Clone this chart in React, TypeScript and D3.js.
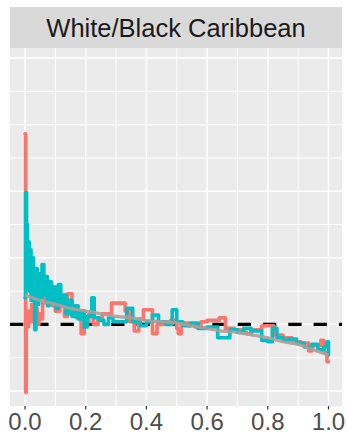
import React, { useEffect, useRef } from "react";
import * as d3 from "d3";

// facet title
const stripTitle = "White/Black Caribbean";

// x axis ticks
const xMajor = [0, 0.2, 0.4, 0.6, 0.8, 1.0];
const xMinor = [0.1, 0.3, 0.5, 0.7, 0.9];
const yMajor = [0.5, 1.0, 1.5, 2.0, 2.5, 3.0];
const yMinor = [0.75, 1.25, 1.75, 2.25, 2.75];
const refLine = 1.0;

// red group (step)
const redX = [
  0.0, 0.002, 0.004, 0.008, 0.012, 0.016, 0.022, 0.028, 0.034, 0.04, 0.046,
  0.052, 0.058, 0.064, 0.075, 0.09, 0.1, 0.115, 0.13, 0.14, 0.155, 0.17, 0.185,
  0.195, 0.21, 0.225, 0.24, 0.255, 0.285, 0.33, 0.345, 0.36, 0.375, 0.39, 0.42,
  0.435, 0.46, 0.48, 0.5, 0.505, 0.515, 0.54, 0.56, 0.58, 0.6, 0.64, 0.66, 0.69,
  0.71, 0.73, 0.745, 0.78, 0.82, 0.85, 0.88, 0.91, 0.935, 0.945, 0.975, 0.985,
  0.995, 1.0,
];
const redY = [
  2.43, 0.49, 1.05, 0.98, 1.1, 1.02, 1.15, 1.05, 1.12, 1.0, 1.08, 1.04, 1.16,
  1.22, 1.29, 1.14, 1.1, 1.18, 1.06, 1.23, 1.1, 1.05, 0.93, 1.02, 1.08, 1.0,
  1.04, 1.08, 1.16, 1.1, 1.02, 0.95, 1.04, 1.11, 0.93, 1.0, 1.02, 1.03, 0.97,
  0.93, 1.01, 0.99, 0.98, 1.02, 1.03, 1.05, 0.97, 0.96, 0.94, 0.93, 0.96, 0.99,
  0.92, 0.9, 0.87, 0.86, 0.8, 0.84, 0.88, 0.79, 0.72, 0.72,
];

// cyan group (step)
const cyanX = [
  0.0, 0.002, 0.005, 0.008, 0.011, 0.014, 0.017, 0.02, 0.024, 0.028, 0.032,
  0.036, 0.04, 0.045, 0.05, 0.056, 0.062, 0.068, 0.074, 0.08, 0.087, 0.094,
  0.102, 0.11, 0.118, 0.126, 0.135, 0.145, 0.155, 0.165, 0.175, 0.185, 0.195,
  0.205, 0.22, 0.228, 0.245, 0.26, 0.275, 0.29, 0.335, 0.355, 0.38, 0.4, 0.42,
  0.44, 0.465, 0.485, 0.5, 0.52, 0.545, 0.57, 0.6, 0.635, 0.675, 0.7, 0.72,
  0.745, 0.78, 0.8, 0.815, 0.83, 0.85, 0.87, 0.895, 0.92, 0.945, 0.965, 0.985,
  0.995, 1.0,
];
const cyanY = [
  1.2, 1.99, 1.75, 1.3, 1.62, 1.25, 1.56, 1.18, 1.5, 1.22, 0.96, 1.42, 1.15,
  1.38, 1.2, 1.45, 1.22, 1.36, 1.14, 1.32, 1.17, 1.28, 1.12, 1.3, 1.15, 1.22,
  1.08, 1.18, 1.06, 1.14, 1.04, 1.1, 0.98, 1.06, 1.2, 1.05, 1.03, 1.0, 1.05,
  1.02, 1.12, 1.02, 0.99, 1.02, 1.07, 1.02, 1.0, 1.11, 1.02, 0.99, 1.01, 0.97,
  0.98, 0.9, 0.96, 0.94, 0.97, 0.95, 0.88, 0.87, 0.97, 0.9, 0.88, 0.89, 0.86,
  0.83, 0.85, 0.81, 0.83, 0.87, 0.77,
];

// smooth trend
const smoothX = [
  0.0, 0.05, 0.1, 0.15, 0.2, 0.25, 0.3, 0.35, 0.4, 0.45, 0.5, 0.55, 0.6, 0.65,
  0.7, 0.75, 0.8, 0.85, 0.9, 0.95, 1.0,
];
const smoothY = [
  1.22, 1.18, 1.15, 1.12, 1.1, 1.08, 1.06, 1.05, 1.03, 1.02, 1.01, 0.99, 0.97,
  0.95, 0.94, 0.92, 0.9, 0.87, 0.85, 0.81, 0.77,
];

const App = () => {
  const ref = useRef<SVGSVGElement>(null);

  useEffect(() => {
    const svg = d3.select(ref.current);
    svg.selectAll("*").remove();

    const width = 347;
    const height = 434;
    const panel = { left: 10, right: 342, top: 48, bottom: 406 };
    const strip = { top: 7, bottom: 48 };

    const x = d3.scaleLinear().domain([0, 1]).range([25, 328.5]);
    const y = d3.scaleLinear().domain([0.5, 3.0]).range([391, 58]);

    svg.attr("width", width).attr("height", height);

    // strip
    svg.append("rect")
      .attr("x", panel.left).attr("y", strip.top)
      .attr("width", panel.right - panel.left)
      .attr("height", strip.bottom - strip.top)
      .attr("fill", "#D9D9D9");
    svg.append("text")
      .attr("x", (panel.left + panel.right) / 2)
      .attr("y", 36.5)
      .attr("text-anchor", "middle")
      .attr("font-family", "'Liberation Sans', Arial, sans-serif")
      .attr("font-size", 25.5)
      .attr("fill", "#1A1A1A")
      .text(stripTitle);

    // panel
    svg.append("rect")
      .attr("x", panel.left).attr("y", panel.top)
      .attr("width", panel.right - panel.left)
      .attr("height", panel.bottom - panel.top)
      .attr("fill", "#EBEBEB");

    const grid = svg.append("g").attr("stroke", "#FFFFFF");
    grid.selectAll(".vmin").data(xMinor).enter().append("line")
      .attr("x1", (d) => x(d)).attr("x2", (d) => x(d))
      .attr("y1", panel.top).attr("y2", panel.bottom)
      .attr("stroke-width", 1);
    grid.selectAll(".hmin").data(yMinor).enter().append("line")
      .attr("y1", (d) => y(d)).attr("y2", (d) => y(d))
      .attr("x1", panel.left).attr("x2", panel.right)
      .attr("stroke-width", 1);
    grid.selectAll(".vmaj").data(xMajor).enter().append("line")
      .attr("x1", (d) => x(d)).attr("x2", (d) => x(d))
      .attr("y1", panel.top).attr("y2", panel.bottom)
      .attr("stroke-width", 1.4);
    grid.selectAll(".hmaj").data(yMajor).enter().append("line")
      .attr("y1", (d) => y(d)).attr("y2", (d) => y(d))
      .attr("x1", panel.left).attr("x2", panel.right)
      .attr("stroke-width", 1.4);

    // reference line
    svg.append("line")
      .attr("x1", panel.left).attr("x2", panel.right)
      .attr("y1", y(refLine)).attr("y2", y(refLine))
      .attr("stroke", "#000000")
      .attr("stroke-width", 3.2)
      .attr("stroke-dasharray", "13.3,12");

    const step = d3.line<[number, number]>()
      .x((d) => x(d[0]))
      .y((d) => y(d[1]))
      .curve(d3.curveStepAfter);

    const series = [
      { xs: redX, ys: redY, color: "#F8766D" },
      { xs: cyanX, ys: cyanY, color: "#00BFC4" },
    ];
    series.forEach((s) => {
      const pts = s.xs.map((v, i) => [v, s.ys[i]] as [number, number]);
      svg.append("path")
        .datum(pts)
        .attr("fill", "none")
        .attr("stroke", s.color)
        .attr("stroke-width", 3.6)
        .attr("stroke-linejoin", "round")
        .attr("stroke-linecap", "round")
        .attr("d", step);
    });

    const smooth = d3.line<[number, number]>()
      .x((d) => x(d[0]))
      .y((d) => y(d[1]))
      .curve(d3.curveMonotoneX);
    svg.append("path")
      .datum(smoothX.map((v, i) => [v, smoothY[i]] as [number, number]))
      .attr("fill", "none")
      .attr("stroke", "#B09C99")
      .attr("stroke-opacity", 0.9)
      .attr("stroke-width", 3.2)
      .attr("d", smooth);

    // x axis
    const ax = svg.append("g");
    ax.selectAll(".tick").data(xMajor).enter().append("line")
      .attr("x1", (d) => x(d)).attr("x2", (d) => x(d))
      .attr("y1", panel.bottom).attr("y2", panel.bottom + 3.5)
      .attr("stroke", "#333333")
      .attr("stroke-width", 1.2);
    ax.selectAll(".lbl").data(xMajor).enter().append("text")
      .attr("x", (d) => x(d))
      .attr("y", 430)
      .attr("text-anchor", "middle")
      .attr("font-family", "'Liberation Sans', Arial, sans-serif")
      .attr("font-size", 24)
      .attr("fill", "#4D4D4D")
      .text((d) => d3.format(".1f")(d));
  }, []);

  return (
    <svg ref={ref} style={{ position: "absolute", left: 0, top: 0 }}></svg>
  );
};

export default App;
